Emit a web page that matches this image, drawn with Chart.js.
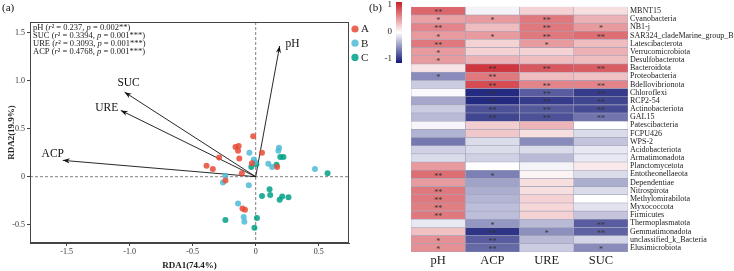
<!DOCTYPE html>
<html>
<head>
<meta charset="utf-8">
<script src="https://cdn.jsdelivr.net/npm/chart.js@4.4.0/dist/chart.umd.min.js"></script>
<style>
  body { margin: 0; background: #fff; width: 734px; height: 271px; overflow: hidden; position: relative; }
  #rda { position: absolute; left: 0; top: 0; }
  #heat { position: absolute; left: 360px; top: 0; }
</style>
</head>
<body>
<canvas id="rda" width="390" height="271" style="width:390px;height:271px"></canvas>
<canvas id="heat" width="374" height="271" style="width:374px;height:271px"></canvas>
<script>
// ---- panel (a): RDA site scores (x = RDA1, y = RDA2) ----
var groupNames = ['A', 'B', 'C'];
var groupColors = ['rgba(230,75,53,0.85)', 'rgba(77,187,213,0.85)', 'rgba(0,160,135,0.85)'];
var groupA = [[-0.02, 0.42], [-0.16, 0.31], [-0.135, 0.32], [-0.14, 0.27], [-0.13, 0.19], [-0.29, 0.2],
  [-0.39, 0.115], [-0.34, 0.08], [-0.11, 0.035], [-0.24, -0.04], [0.05, 0.25], [-0.03, 0.14],
  [0.17, 0.1], [-0.105, -0.33], [-0.085, -0.345]];
var groupB = [[0.185, 0.30], [0.18, 0.27], [-0.05, 0.25], [-0.015, 0.18], [0.10, 0.135], [0.13, 0.10],
  [0.47, 0.08], [-0.24, 0.01], [-0.26, -0.06], [-0.055, -0.09], [-0.14, -0.28], [-0.095, -0.42],
  [-0.09, -0.47], [-0.005, 0.15]];
var groupC = [[0.195, 0.205], [0.22, 0.205], [0.005, 0.13], [-0.035, 0.10], [0.57, 0.035], [0.11, -0.13],
  [0.115, -0.19], [0.05, -0.2], [0.21, -0.205], [0.19, -0.24], [0.26, -0.215], [-0.24, -0.45],
  [0.01, -0.43], [-0.01, -0.53], [0.165, 0.125]];

// environmental arrows
var envNames = ['pH', 'SUC', 'URE', 'ACP'];
var envX = [0.19, -1.04, -1.07, -1.53];
var envY = [1.36, 0.88, 0.69, 0.17];
var envR2 = ['0.237', '0.3394', '0.3093', '0.4768'];
var envP = ['0.002**', '0.001***', '0.001***', '0.001***'];

var rdaXTicks = [-1.5, -1, -0.5, 0, 0.5];
var rdaYTicks = [1.5, 1, 0.5, 0, -0.5];

// ---- panel (b): correlation heatmap ----
var phyla = ['MBNT15', 'Cyanobacteria', 'NB1-j', 'SAR324_cladeMarine_group_B', 'Latescibacterota',
  'Verrucomicrobiota', 'Desulfobacterota', 'Bacteroidota', 'Proteobacteria', 'Bdellovibrionota',
  'Chloroflexi', 'RCP2-54', 'Actinobacteriota', 'GAL15', 'Patescibacteria', 'FCPU426', 'WPS-2',
  'Acidobacteriota', 'Armatimonadota', 'Planctomycetota', 'Entotheonellaeota', 'Dependentiae',
  'Nitrospirota', 'Methylomirabilota', 'Myxococcota', 'Firmicutes', 'Thermoplasmatota',
  'Gemmatimonadota', 'unclassified_k_Bacteria', 'Elusimicrobiota'];
var factors = ['pH', 'ACP', 'URE', 'SUC'];
var corPH  = [0.68, 0.42, 0.55, 0.45, 0.6, 0.45, 0.45, 0.12, -0.5, -0.22, -0.02, -0.38, -0.22, -0.3, -0.04,
  -0.33, -0.58, -0.2, -0.15, 0.45, 0.65, 0.45, 0.6, 0.6, 0.58, 0.6, -0.1, 0.28, 0.5, 0.5];
var corACP = [-0.05, 0.45, 0.3, 0.45, 0.2, 0.2, 0.35, 0.9, 0.6, 0.8, -0.92, -0.92, -0.75, -0.8, 0.22,
  0.25, -0.15, -0.15, -0.2, 0.0, -0.55, -0.4, -0.35, -0.32, -0.28, -0.28, -0.45, -0.88, -0.7, -0.65];
var corURE = [0.2, 0.6, 0.6, 0.6, 0.45, 0.2, 0.3, 0.75, 0.3, 0.55, -0.7, -0.85, -0.72, -0.75, 0.33,
  0.15, -0.5, -0.15, -0.3, -0.05, 0.05, 0.15, 0.15, 0.2, 0.18, 0.2, -0.3, -0.48, -0.3, -0.22];
var corSUC = [0.15, 0.35, 0.45, 0.65, 0.3, 0.35, 0.3, 0.72, 0.28, 0.55, -0.85, -0.8, -0.78, -0.6, 0.0,
  -0.15, -0.25, -0.1, -0.1, 0.1, -0.15, -0.35, -0.15, 0.0, -0.12, -0.25, -0.7, -0.68, -0.18, -0.5];
var sigPH  = ['**', '*', '**', '*', '**', '*', '*', '', '*', '', '', '', '', '', '',
  '', '', '', '', '', '**', '', '**', '**', '**', '**', '', '', '*', '*'];
var sigACP = ['', '*', '', '*', '', '', '', '**', '**', '**', '**', '**', '**', '**', '',
  '', '', '', '', '', '*', '', '', '', '', '', '*', '**', '**', '**'];
var sigURE = ['', '**', '**', '**', '*', '', '', '**', '', '**', '**', '**', '**', '**', '',
  '', '', '', '', '', '', '', '', '', '', '', '', '*', '', ''];
var sigSUC = ['', '', '*', '**', '', '', '', '**', '', '**', '**', '**', '**', '**', '',
  '', '', '', '', '', '', '', '', '', '', '', '**', '**', '', '*'];

var corCols = [corPH, corACP, corURE, corSUC];
var sigCols = [sigPH, sigACP, sigURE, sigSUC];

Chart.defaults.font.family = '"Liberation Serif", "Times New Roman", serif';
Chart.defaults.color = '#222';

var serif = '"Liberation Serif", "Times New Roman", serif';

function corColor(v) {
  var lo = [18, 24, 118], hi = [202, 32, 40];
  var end = v < 0 ? lo : hi, t = Math.min(1, Math.abs(v));
  var c = [0, 1, 2].map(function (i) { return Math.round(255 + (end[i] - 255) * t); });
  return 'rgb(' + c.join(',') + ')';
}

function toPoints(arr) {
  return arr.map(function (p) { return { x: p[0], y: p[1] }; });
}

// draws text pieces, some in italic
function drawRich(ctx, x, y, parts, size) {
  parts.forEach(function (p) {
    ctx.font = (p[1] ? 'italic ' : '') + size + 'px ' + serif;
    ctx.fillText(p[0], x, y);
    x += ctx.measureText(p[0]).width;
  });
}

var labelOffsets = { pH: [13, -2], SUC: [4, -9], URE: [-14, -2], ACP: [-10, -6] };

var rdaDecor = {
  id: 'rdaDecor',
  beforeDatasetsDraw: function (chart) {
    var ctx = chart.ctx, a = chart.chartArea;
    var x0 = chart.scales.x.getPixelForValue(0), y0 = chart.scales.y.getPixelForValue(0);
    ctx.save();
    ctx.strokeStyle = '#808080';
    ctx.lineWidth = 1;
    ctx.setLineDash([3, 2]);
    ctx.beginPath();
    ctx.moveTo(x0, a.top); ctx.lineTo(x0, a.bottom);
    ctx.moveTo(a.left, y0); ctx.lineTo(a.right, y0);
    ctx.stroke();
    ctx.restore();
  },
  afterDatasetsDraw: function (chart) {
    var ctx = chart.ctx, a = chart.chartArea;
    ctx.save();
    // arrow heads + labels
    envNames.forEach(function (n, i) {
      var meta = chart.getDatasetMeta(3 + i);
      var p0 = meta.data[0], p1 = meta.data[1];
      var ang = Math.atan2(p1.y - p0.y, p1.x - p0.x);
      var len = 7, half = 2.6;
      ctx.fillStyle = '#111';
      ctx.beginPath();
      ctx.moveTo(p1.x, p1.y);
      ctx.lineTo(p1.x - len * Math.cos(ang) + half * Math.sin(ang), p1.y - len * Math.sin(ang) - half * Math.cos(ang));
      ctx.lineTo(p1.x - len * 0.7 * Math.cos(ang), p1.y - len * 0.7 * Math.sin(ang));
      ctx.lineTo(p1.x - len * Math.cos(ang) - half * Math.sin(ang), p1.y - len * Math.sin(ang) + half * Math.cos(ang));
      ctx.closePath();
      ctx.fill();
      var off = labelOffsets[n];
      ctx.font = '11.5px ' + serif;
      ctx.textAlign = 'center';
      ctx.textBaseline = 'middle';
      ctx.fillStyle = '#111';
      ctx.fillText(n, p1.x + off[0], p1.y + off[1]);
    });
    // frame
    ctx.strokeStyle = '#444';
    ctx.lineWidth = 1;
    ctx.strokeRect(a.left + 0.5, a.top + 0.5, a.right - a.left - 1, a.bottom - a.top - 1);
    // statistics
    ctx.textAlign = 'left';
    ctx.textBaseline = 'middle';
    ctx.fillStyle = '#222';
    envNames.forEach(function (n, i) {
      drawRich(ctx, a.left + 3, a.top + 5.3 + i * 8.15,
        [[n + ' (', false], ['r', true], ['\u00b2 = ' + envR2[i] + ', ', false], ['p', true], [' = ' + envP[i] + ')', false]], 8.5);
    });
    // panel tag
    ctx.font = '11px ' + serif;
    ctx.fillStyle = '#111';
    ctx.fillText('(a)', 2, 8);
    // legend
    groupNames.forEach(function (g, i) {
      var ly = 29 + i * 14.2;
      ctx.fillStyle = groupColors[i];
      ctx.beginPath();
      ctx.arc(355, ly, 3.6, 0, Math.PI * 2);
      ctx.fill();
      ctx.fillStyle = '#222';
      ctx.font = '11px ' + serif;
      ctx.fillText(g, 361, ly + 0.5);
    });
    ctx.restore();
  }
};

var rdaSets = [groupA, groupB, groupC].map(function (g, i) {
  return {
    label: groupNames[i],
    data: toPoints(g),
    backgroundColor: groupColors[i],
    borderWidth: 0,
    pointRadius: 3,
    showLine: false
  };
});
envNames.forEach(function (n, i) {
  rdaSets.push({
    label: n,
    data: [{ x: 0, y: 0 }, { x: envX[i], y: envY[i] }],
    showLine: true,
    borderColor: '#111',
    borderWidth: 0.9,
    pointRadius: 0
  });
});

new Chart(document.getElementById('rda'), {
  type: 'scatter',
  data: { datasets: rdaSets },
  options: {
    responsive: false,
    animation: false,
    layout: { padding: { left: 0, top: 22, right: 41, bottom: 0 } },
    plugins: { legend: { display: false }, tooltip: { enabled: false } },
    scales: {
      x: {
        type: 'linear', min: -1.79, max: 0.74,
        afterBuildTicks: function (s) { s.ticks = rdaXTicks.map(function (v) { return { value: v }; }); },
        afterFit: function (s) { s.height = 28; },
        ticks: { font: { size: 8 }, color: '#333', padding: 1 },
        grid: { drawOnChartArea: false, tickLength: 3, color: '#444' },
        border: { color: '#444' },
        title: { display: true, text: 'RDA1(74.4%)', font: { size: 9, weight: 'bold' }, color: '#222', padding: { top: 0, bottom: 0 } }
      },
      y: {
        type: 'linear', min: -0.69, max: 1.61,
        afterBuildTicks: function (s) { s.ticks = rdaYTicks.map(function (v) { return { value: v }; }); },
        afterFit: function (s) { s.width = 30; },
        ticks: { font: { size: 8 }, color: '#333', padding: 2 },
        grid: { drawOnChartArea: false, tickLength: 3, color: '#444' },
        border: { color: '#444' },
        title: { display: true, text: 'RDA2(19.9%)', font: { size: 9, weight: 'bold' }, color: '#222', padding: { top: 6, bottom: 0 } }
      }
    }
  },
  plugins: [rdaDecor]
});

// ---- heatmap ----
var heatDecor = {
  id: 'heatDecor',
  afterDatasetsDraw: function (chart) {
    var ctx = chart.ctx;
    ctx.save();
    ctx.font = '8px ' + serif;
    ctx.textAlign = 'center';
    ctx.textBaseline = 'alphabetic';
    ctx.fillStyle = '#333';
    factors.forEach(function (f, c) {
      var meta = chart.getDatasetMeta(c);
      meta.data.forEach(function (bar, r) {
        var s = sigCols[c][r];
        if (!s) return;
        ctx.fillText(s, (bar.x + bar.base) / 2, bar.y + 4.2);
      });
    });
    ctx.restore();
  },
  afterDraw: function (chart) {
    var ctx = chart.ctx;
    ctx.save();
    var top = 2, bottom = 63;
    var g = ctx.createLinearGradient(0, top, 0, bottom);
    g.addColorStop(0, corColor(1));
    g.addColorStop(0.5, corColor(0));
    g.addColorStop(1, corColor(-1));
    ctx.fillStyle = g;
    ctx.fillRect(36, top, 6, bottom - top);
    ctx.fillStyle = '#222';
    ctx.font = '9px ' + serif;
    ctx.textAlign = 'right';
    ctx.textBaseline = 'middle';
    ctx.fillText('1', 32, 5);
    ctx.fillText('0', 32, 32);
    ctx.fillText('-1', 32, 59);
    ctx.font = '11px ' + serif;
    ctx.textAlign = 'left';
    ctx.fillStyle = '#111';
    ctx.fillText('(b)', 9, 8);
    ctx.restore();
  }
};

var heatSets = factors.map(function (f, c) {
  return {
    label: f,
    data: phyla.map(function () { return 1; }),
    backgroundColor: corCols[c].map(corColor),
    borderColor: '#a4a4ba',
    borderWidth: 0.6,
    borderSkipped: false,
    barPercentage: 1,
    categoryPercentage: 1
  };
});

new Chart(document.getElementById('heat'), {
  type: 'bar',
  data: { labels: phyla, datasets: heatSets },
  options: {
    indexAxis: 'y',
    responsive: false,
    animation: false,
    layout: { padding: { left: 51, top: 2, right: 0, bottom: 0 } },
    plugins: { legend: { display: false }, tooltip: { enabled: false } },
    scales: {
      x: {
        type: 'linear', min: 0, max: 4, stacked: true,
        afterBuildTicks: function (s) { s.ticks = factors.map(function (f, i) { return { value: i + 0.5 }; }); },
        afterFit: function (s) { s.height = 19; },
        ticks: {
          font: { size: 12.5 }, color: '#222', padding: 1,
          callback: function (v) { return factors[Math.floor(v)]; }
        },
        grid: { display: false, drawTicks: false },
        border: { display: false }
      },
      y: {
        type: 'category', position: 'right', stacked: true,
        afterFit: function (s) { s.width = 106; },
        ticks: { font: { size: 8 }, color: '#222', padding: 2, autoSkip: false },
        grid: { display: false, drawTicks: false },
        border: { display: false }
      }
    }
  },
  plugins: [heatDecor]
});
</script>
</body>
</html>
